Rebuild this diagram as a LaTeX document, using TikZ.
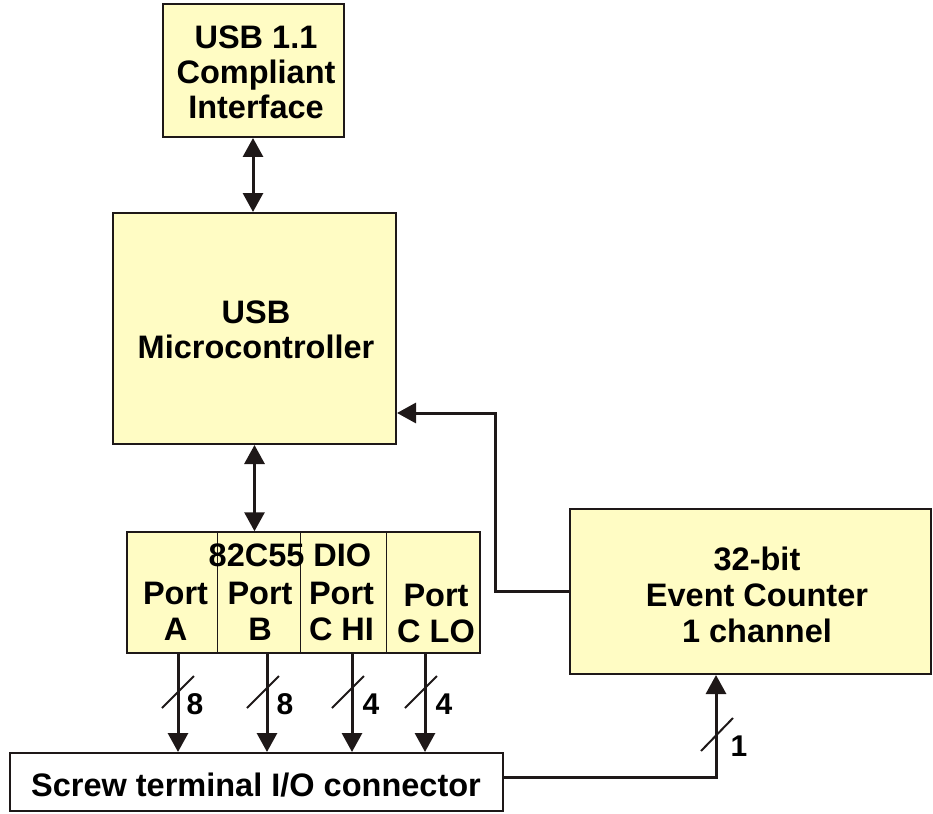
\documentclass[tikz,border=0pt]{standalone}
\usepackage{fontspec}
\setmainfont{Liberation Sans}
\usetikzlibrary{arrows.meta,calc}
\definecolor{boxfill}{RGB}{255,252,196}
\definecolor{ink}{RGB}{30,24,24}
\begin{document}
\begin{tikzpicture}[x=1pt,y=-1pt,
  >={Triangle[length=19pt,width=20pt]},
  box/.style={draw=ink, line width=2pt, fill=boxfill, align=center,
    font=\bfseries\fontsize{32.5}{35}\selectfont, inner sep=0pt},
  txt/.style={align=center, font=\bfseries\fontsize{32.5}{36}\selectfont, inner sep=0pt},
  lbl/.style={font=\bfseries\fontsize{30}{30}\selectfont, inner sep=0pt},
  conn/.style={draw=ink, line width=3pt},
  slash/.style={draw=ink, line width=2pt},
  divider/.style={draw=ink, line width=1.5pt}]
\useasboundingbox (0,0) rectangle (933,813);

\node[box, minimum width=181pt, minimum height=133pt] (usb) at (253,70.5) {};
\node[txt, font=\bfseries\fontsize{32.5}{35}\selectfont] (usbt) at (256,72) {USB 1.1\\Compliant\\Interface};
\node[box, minimum width=283pt, minimum height=231pt] (mc) at (254.5,328.5) {};
\node[txt, font=\bfseries\fontsize{32.5}{35}\selectfont] (mct) at (256,330) {USB\\Microcontroller};
\node[box, line width=1.5pt, minimum width=353pt, minimum height=121pt] (dio) at (303.5,592.5) {};
\node[box, minimum width=361pt, minimum height=165pt] (cnt) at (750.5,591.5) {};
\node[txt, font=\bfseries\fontsize{32.5}{36}\selectfont] (cntt) at (757,595) {32-bit\\Event Counter\\1 channel};
\node[box, fill=white, minimum width=493pt, minimum height=58pt] (screw) at (256.5,782) {};
\node[txt] (screwt) at (256,785) {Screw terminal I/O connector};

% dividers in the 82C55 block
\foreach \dx in {91,174,260}{
  \draw[divider] ($(dio.north west)+(\dx,0)$) -- ($(dio.south west)+(\dx,0)$);
}

\node[txt] (t82) at (290,555) {82C55 DIO};
\node[txt] (pa) at (175.5,611) {Port\\A};
\node[txt] (pb) at (260,611) {Port\\B};
\node[txt] (pch) at (341.5,611) {Port\\C HI};
\node[txt] (pcl) at (436,613) {Port\\C LO};

% bidirectional buses
\draw[conn,<->] (usb.south) -- (usb.south |- mc.north);
\draw[conn,<->] (mc.south) -- (mc.south |- dio.north);

% port outputs
\coordinate (xa) at (178,0);
\coordinate (xb) at (267,0);
\coordinate (xc) at (352,0);
\coordinate (xd) at (425,0);
\foreach \c in {xa,xb,xc,xd}{
  \draw[conn,->] (\c |- dio.south) -- (\c |- screw.north);
}
\draw[slash] (162,708) -- (194,676);
\draw[slash] (247,708) -- (279,676);
\draw[slash] (332,708) -- (364,676);
\draw[slash] (405,708) -- (437,676);
\node[lbl] (la) at (195,704) {8};
\node[lbl] (lb) at (285,704) {8};
\node[lbl] (lc) at (371,704) {4};
\node[lbl] (ld) at (444,704) {4};

% counter to microcontroller
\coordinate (ret) at (495,413);
\draw[conn,->] (cnt.west) -| (ret) -- (ret -| mc.east);

% screw terminal to counter
\coordinate (cin) at (716,777);
\draw[conn,->] ($(screw.east)+(0,-5)$) -- (cin) -- (cin |- cnt.south);
\draw[slash] (701,751) -- (733,718);
\node[lbl] (l1) at (739,746) {1};
\end{tikzpicture}
\end{document}
